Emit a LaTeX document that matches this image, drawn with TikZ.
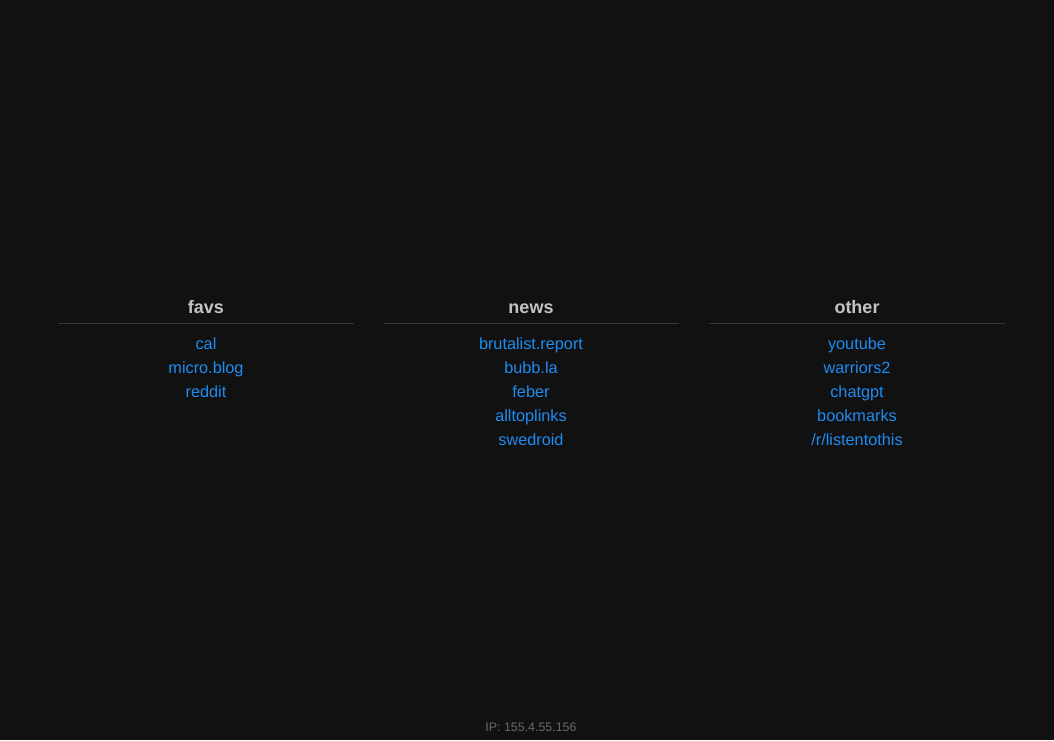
\documentclass[tikz,border=0pt]{standalone}
\usepackage{fontspec}
\setmainfont{Liberation Sans}
\usepackage{xcolor}
\definecolor{pagebg}{HTML}{111111}
\definecolor{headgrey}{HTML}{C4C4C4}
\definecolor{rulegrey}{HTML}{383838}
\definecolor{linkblue}{HTML}{1E8CF0}
\definecolor{footgrey}{HTML}{6A6A6A}

\begin{document}
\begin{tikzpicture}[x=0.75pt,y=-0.75pt]
			\tikzset{head/.style={anchor=base,inner sep=0pt,text=headgrey,font=\fontsize{13.5}{16}\selectfont\bfseries},
				link/.style={anchor=base,inner sep=0pt,text=linkblue,font=\fontsize{12.2}{14}\selectfont},
				rule/.style={draw=rulegrey,line width=0.75pt}}
			
			\fill[pagebg] (0,0) rectangle (1054,740);
			\useasboundingbox (0,0) rectangle (1054,740);
			
			% headers
			\node [head] (favs) at (206,313) {favs};
			\node [head] (news) at (531,313) {news};
			\node [head] (other) at (857,313) {other};
			
			% rules under the headers
			\coordinate (favsL) at (58,323.5);
			\coordinate (favsR) at (354,323.5);
			\coordinate (newsL) at (384,323.5);
			\coordinate (newsR) at (679,323.5);
			\coordinate (otherL) at (709,323.5);
			\coordinate (otherR) at (1005,323.5);
			\draw[rule] (favsL) -- (favsR);
			\draw[rule] (newsL) -- (newsR);
			\draw[rule] (otherL) -- (otherR);
			
			% favs
			\node [link] (cal) at (206,349) {cal};
			\node [link] (microblog) at (206,373) {micro.blog};
			\node [link] (reddit) at (206,397) {reddit};
			
			% news
			\node [link] (brutalist) at (531,349) {brutalist.report};
			\node [link] (bubbla) at (531,373) {bubb.la};
			\node [link] (feber) at (531,397) {feber};
			\node [link] (alltoplinks) at (531,421) {alltoplinks};
			\node [link] (swedroid) at (531,445) {swedroid};
			
			% other
			\node [link] (youtube) at (857,349) {youtube};
			\node [link] (warriors) at (857,373) {warriors2};
			\node [link] (chatgpt) at (857,397) {chatgpt};
			\node [link] (bookmarks) at (857,421) {bookmarks};
			\node [link] (listentothis) at (857,445) {/r/listentothis};
			
			\node [anchor=base,inner sep=0pt,text=footgrey,font=\fontsize{9.3}{11}\selectfont] (ip) at (531,731) {IP: 155.4.55.156};
			\end{tikzpicture}
\end{document}
